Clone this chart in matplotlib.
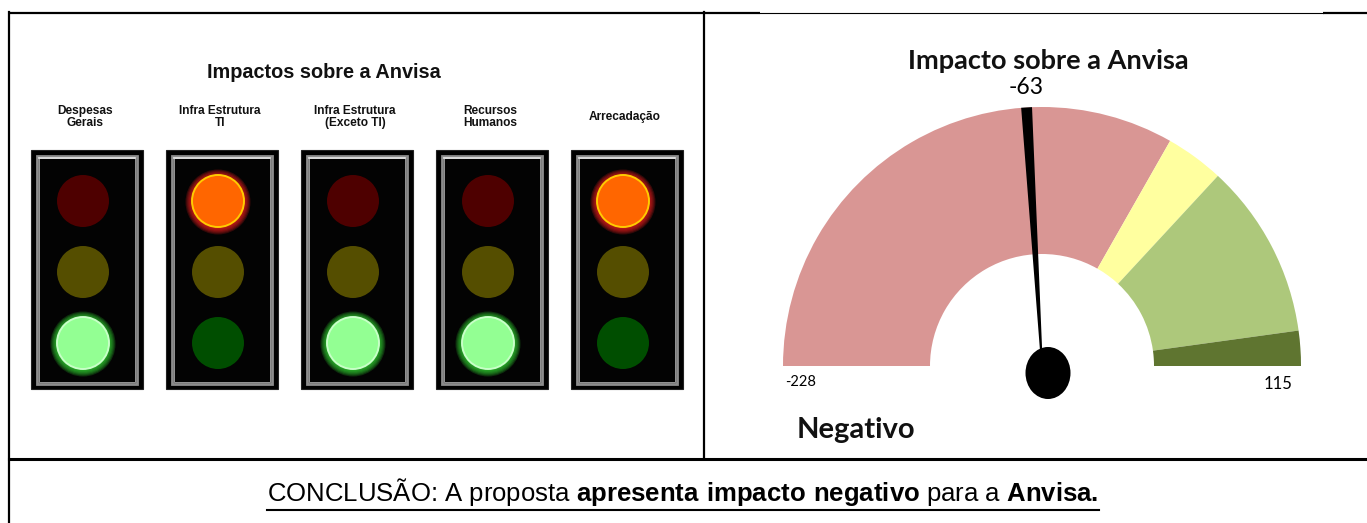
import numpy as np
import matplotlib

matplotlib.use("Agg")
import matplotlib.pyplot as plt
from matplotlib.patches import Rectangle, Circle, Wedge, Polygon, Ellipse

# semaforos (painel esquerdo)
categorias = ["Despesas\nGerais", "Infra Estrutura\nTI", "Infra Estrutura\n(Exceto TI)",
              "Recursos\nHumanos", "Arrecadação"]
sinal_aceso = ["verde", "vermelho", "verde", "verde", "vermelho"]

# velocimetro (painel direito)
faixas_inicio = [-228, 0, 25, 100]
faixas_fim = [0, 25, 100, 115]
valor_min = -228
valor_max = 115
valor_impacto = -63
resultado = "Negativo"

cores_faixas = ["#d99694", "#ffff9f", "#adc87b", "#5f7530"]
cores_apagadas = {"vermelho": "#4e0000", "amarelo": "#554e00", "verde": "#004e00"}
cores_acesas = {"vermelho": ("#ff6600", "#ffcc00", "#f02020"),
                "verde": ("#93ff93", "#c8ffc8", "#33d633")}

plt.rcParams["font.family"] = ["Liberation Sans", "DejaVu Sans"]
plt.rcParams["mathtext.fontset"] = "custom"
plt.rcParams["mathtext.bf"] = "Liberation Sans:bold"
plt.rcParams["mathtext.rm"] = "Liberation Sans"

W, H = 1367, 523
fig = plt.figure(figsize=(W / 100, H / 100), dpi=100)
ax = fig.add_axes([0, 0, 1, 1])
ax.set_xlim(0, W)
ax.set_ylim(H, 0)
ax.axis("off")

# bordas da tabela
ax.plot([9, 760], [13, 13], color="black", lw=1.6, solid_capstyle="butt")
ax.plot([760, 1323], [13, 13], color="black", lw=0.8)
ax.plot([1323, W], [13, 13], color="black", lw=1.6, solid_capstyle="butt")
ax.plot([9, 9], [12, H], color="black", lw=1.6)
ax.plot([704, 704], [12, 459], color="black", lw=1.6)
ax.plot([9, W], [459, 459], color="black", lw=2.2)

# painel esquerdo
ax.text(324, 73, "Impactos sobre a Anvisa", ha="center", va="center",
        fontsize=14.3, fontweight="bold", color="#111111")

luzes = ["vermelho", "amarelo", "verde"]
for i, (rotulo, aceso) in enumerate(zip(categorias, sinal_aceso)):
    cx = 87 + i * 135
    ax.text(cx - 2, 117, rotulo, ha="center", va="center", fontsize=8.6,
            fontweight="bold", linespacing=1.0, color="#111111")
    ax.add_patch(Rectangle((cx - 56, 150), 112, 239, fc="black", ec="#222222", lw=0.8))
    ax.add_patch(Rectangle((cx - 50, 156), 100, 228, fc="#030303", ec="#8c8c8c", lw=2.0))
    ax.add_patch(Rectangle((cx - 48, 158), 96, 224, fc="none", ec="#d0d0d0", lw=0.5))
    ax.plot([cx - 48, cx + 48], [158, 158], color="#e8e8e8", lw=1.2)
    for j, luz in enumerate(luzes):
        lx, ly = cx - 4, 201 + j * 71
        if luz == aceso:
            nucleo, borda, brilho = cores_acesas[luz]
            for r in np.linspace(32.5, 27, 6):
                ax.add_patch(Circle((lx, ly + 1), r, fc=brilho, alpha=0.2, lw=0))
            ax.add_patch(Circle((lx, ly), 26, fc=nucleo, ec=borda, lw=1.4))
        else:
            ax.add_patch(Circle((lx, ly), 26, fc=cores_apagadas[luz], lw=0))

# painel direito: velocimetro
R = 259.0
gx0, gy0 = 1042, 366
gax = fig.add_axes([(gx0 - 300) / W, 1 - (gy0 + 100) / H, 600 / W, 400 / H])
gax.set_xlim(-300 / R, 300 / R)
gax.set_ylim(-100 / R, 300 / R)
gax.set_aspect("equal")
gax.axis("off")


def angulo(v):
    return 180 - (v - valor_min) / (valor_max - valor_min) * 180


raio_interno = 112 / R
for ini, fim, cor in zip(faixas_inicio, faixas_fim, cores_faixas):
    gax.add_patch(Wedge((0, 0), 1.0, angulo(fim), angulo(ini),
                        width=1 - raio_interno, fc=cor, lw=0))

t = np.deg2rad(angulo(valor_impacto))
u = np.array([np.cos(t), np.sin(t)])
n = np.array([-np.sin(t), np.cos(t)])
ponteiro = [u * 0.05 + n * 0.004, u * 1.0 + n * 0.021,
            u * 1.0 - n * 0.021, u * 0.05 - n * 0.004]
gax.add_patch(Polygon(ponteiro, closed=True, fc="black", lw=0))
gax.add_patch(Ellipse((6 / R, -7 / R), 45 / R, 52 / R, fc="black", lw=0))

fonte_gauge = ["Lato", "DejaVu Sans"]
ax.text(1048, 61, "Impacto sobre a Anvisa", ha="center", va="center",
        fontsize=19.5, fontweight="bold", family=fonte_gauge, color="#111111")
ax.text(1026, 88, f"{valor_impacto}", ha="center", va="center",
        fontsize=16.5, family=fonte_gauge)
ax.text(785, 382, f"{valor_min}", ha="left", va="center",
        fontsize=10.5, family=fonte_gauge)
ax.text(1292, 384, f"{valor_max}", ha="right", va="center",
        fontsize=12, family=fonte_gauge)
ax.text(797, 430, resultado, ha="left", va="center",
        fontsize=21, fontweight="bold", family=fonte_gauge, color="#111111")

# conclusao sublinhada
conclusao = ax.text(683, 492,
                    r"CONCLUSÃO: A proposta $\mathbf{apresenta\ impacto\ negativo}$"
                    r" para a $\mathbf{Anvisa.}$",
                    ha="center", va="center", fontsize=18.5)
fig.canvas.draw()
bb = conclusao.get_window_extent()
ax.plot([bb.x0, bb.x1], [H - bb.y0 + 1.5, H - bb.y0 + 1.5], color="black", lw=1.5)

fig.savefig("out.png", dpi=100)
